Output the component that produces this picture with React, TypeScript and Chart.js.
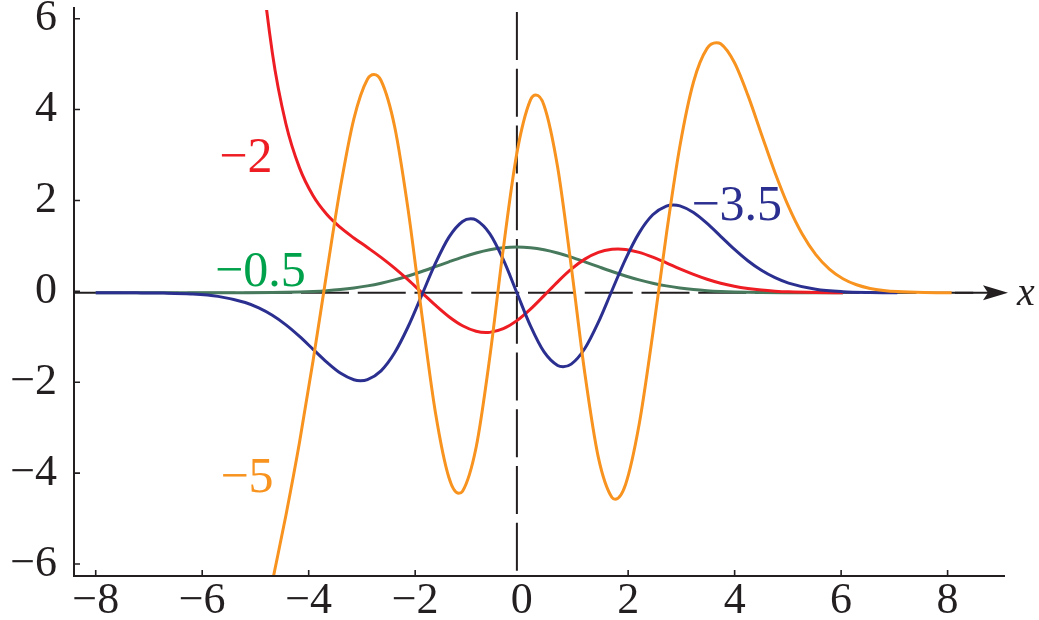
import { useEffect, useRef } from "react";
import { Chart, registerables } from "chart.js";

Chart.register(...registerables);

// ---------- axis ticks ----------
const xTickValues = [-8, -6, -4, -2, 0, 2, 4, 6, 8];
const yTickValues = [-6, -4, -2, 0, 2, 4, 6];

// ---------- series values: [x, y] ----------
// a = -0.5 (green)
const seriesGreen: [number, number][] = [
  [-7.75, 0], [-7.5, 0], [-7, 0], [-6.5, 0], [-6, 0.0001], [-5.5, 0.0005], [-5, 0.0019],
  [-4.5, 0.0063], [-4, 0.0183], [-3.75, 0.0297], [-3.5, 0.0468], [-3.25, 0.0713], [-3, 0.1054],
  [-2.75, 0.151], [-2.5, 0.2096], [-2.25, 0.2821], [-2, 0.3679], [-1.75, 0.465], [-1.5, 0.5698],
  [-1.25, 0.6766], [-1, 0.7788], [-0.75, 0.8688], [-0.5, 0.9394], [-0.25, 0.9845], [0, 1],
  [0.25, 0.9845], [0.5, 0.9394], [0.75, 0.8688], [1, 0.7788], [1.25, 0.6766], [1.5, 0.5698],
  [1.75, 0.465], [2, 0.3679], [2.25, 0.2821], [2.5, 0.2096], [2.75, 0.151], [3, 0.1054],
  [3.25, 0.0713], [3.5, 0.0468], [3.75, 0.0297], [4, 0.0183], [4.5, 0.0063], [5, 0.0019],
  [5.5, 0.0005], [6, 0.0001],
];

// a = -2 (red)
const seriesRed: [number, number][] = [
  [-5, 12.245], [-4.75, 7.822], [-4.5, 5.238], [-4.25, 3.685], [-4, 2.727], [-3.75, 2.118],
  [-3.5, 1.714], [-3.25, 1.427], [-3, 1.198], [-2.75, 0.989], [-2.5, 0.774], [-2.25, 0.539],
  [-2, 0.28], [-1.75, 0.004], [-1.5, -0.271], [-1.25, -0.522], [-1, -0.72], [-0.75, -0.84],
  [-0.57, -0.868], [-0.5, -0.864], [-0.25, -0.784], [0, -0.608], [0.25, -0.357], [0.5, -0.062],
  [0.75, 0.24], [1, 0.516], [1.25, 0.735], [1.5, 0.882], [1.75, 0.951], [1.86, 0.957],
  [2, 0.946], [2.25, 0.883], [2.5, 0.78], [2.75, 0.655], [3, 0.525], [3.25, 0.403],
  [3.5, 0.297], [3.75, 0.21], [4, 0.143], [4.25, 0.094], [4.5, 0.059], [4.75, 0.036],
  [5, 0.021], [5.5, 0.007], [6, 0.002],
];

// a = -3.5 (blue)
const seriesBlue: [number, number][] = [
  [-7.75, -0.0001], [-7.5, -0.0003], [-7, -0.0015], [-6.5, -0.0066], [-6, -0.0244],
  [-5.5, -0.0779], [-5, -0.2123], [-4.75, -0.3299], [-4.5, -0.4914], [-4.25, -0.7003],
  [-4, -0.9526], [-3.75, -1.2333], [-3.5, -1.5142], [-3.25, -1.7529], [-3, -1.8972],
  [-2.88, -1.9176], [-2.75, -1.8942], [-2.5, -1.7031], [-2.25, -1.3089], [-2, -0.7358],
  [-1.75, -0.0509], [-1.5, 0.641], [-1.25, 1.2158], [-1, 1.5576], [-0.85, 1.616],
  [-0.75, 1.5883], [-0.5, 1.2917], [-0.25, 0.723], [0, 0], [0.25, -0.723], [0.5, -1.2917],
  [0.75, -1.5883], [0.85, -1.616], [1, -1.5576], [1.25, -1.2158], [1.5, -0.641],
  [1.75, 0.0509], [2, 0.7358], [2.25, 1.3089], [2.5, 1.7031], [2.75, 1.8942], [2.88, 1.9176],
  [3, 1.8972], [3.25, 1.7529], [3.5, 1.5142], [3.75, 1.2333], [4, 0.9526], [4.25, 0.7003],
  [4.5, 0.4914], [4.75, 0.3299], [5, 0.2123], [5.5, 0.0779], [6, 0.0244], [6.5, 0.0066],
  [7, 0.0015],
];

// a = -5 (orange)
const seriesOrange: [number, number][] = [
  [-4.75, -7.798], [-4.5, -6.31], [-4.25, -4.855], [-4, -3.264], [-3.75, -1.478],
  [-3.5, 0.434], [-3.25, 2.286], [-3, 3.798], [-2.75, 4.662], [-2.63, 4.766], [-2.5, 4.635],
  [-2.25, 3.631], [-2, 1.8], [-1.75, -0.465], [-1.5, -2.606], [-1.25, -4.037], [-1.07, -4.376],
  [-1, -4.331], [-0.75, -3.372], [-0.5, -1.416], [-0.25, 0.965], [0, 3.052], [0.25, 4.211],
  [0.35, 4.316], [0.5, 4.091], [0.75, 2.741], [1, 0.578], [1.25, -1.756], [1.5, -3.599],
  [1.75, -4.47], [1.81, -4.506], [2, -4.184], [2.25, -2.872], [2.5, -0.899], [2.75, 1.271],
  [3, 3.205], [3.25, 4.602], [3.5, 5.336], [3.67, 5.459], [3.75, 5.436], [4, 5.033],
  [4.25, 4.316], [4.5, 3.464], [4.75, 2.623], [5, 1.88], [5.25, 1.282], [5.5, 0.834],
  [5.75, 0.518], [6, 0.308], [6.25, 0.176], [6.5, 0.096], [6.75, 0.051], [7, 0.026],
  [7.5, 0.006], [8, 0.001],
];

// curve labels: text, colour, anchor (data coords of the text's left end / baseline)
const curveLabels = [
  { text: "\u22122", color: "#EE1D23", x: -5.477, y: 2.638 },
  { text: "\u22120.5", color: "#00A14B", x: -5.556, y: 0.148 },
  { text: "\u22123.5", color: "#2B2F8F", x: 3.211, y: 1.59 },
  { text: "\u22125", color: "#F7931E", x: -5.456, y: -4.349 },
];

const COLORS = {
  green: "#47795D",
  red: "#EE1D23",
  blue: "#2B2F8F",
  orange: "#F7931E",
  ink: "#231F20",
};

const SERIF = '"Liberation Serif", "Times New Roman", serif';

const fmt = (v: number) => (v < 0 ? "\u2212" + Math.abs(v) : String(v));
const toPts = (s: [number, number][]) => s.map(([x, y]) => ({ x, y }));

const overlay = {
  id: "overlay",
  beforeDatasetsDraw(chart: any) {
    const { ctx, chartArea } = chart;
    const xs = chart.scales.x;
    const ys = chart.scales.y;
    const x0 = xs.getPixelForValue(0);
    const y0 = ys.getPixelForValue(0);
    ctx.save();
    ctx.strokeStyle = COLORS.ink;
    ctx.lineWidth = 2;
    ctx.setLineDash([48, 8.75]);
    ctx.beginPath();
    ctx.moveTo(chartArea.left, y0);
    ctx.lineTo(975, y0);
    ctx.stroke();
    ctx.beginPath();
    ctx.moveTo(x0, chartArea.top + 5);
    ctx.lineTo(x0, chartArea.bottom);
    ctx.stroke();
    ctx.setLineDash([]);
    ctx.beginPath();
    ctx.moveTo(955, y0);
    ctx.lineTo(990, y0);
    ctx.stroke();
    ctx.restore();
  },
  afterDatasetsDraw(chart: any) {
    const { ctx, chartArea } = chart;
    const xs = chart.scales.x;
    const ys = chart.scales.y;
    const xt = chart.scales.xt;
    const yt = chart.scales.yt;
    const y0 = ys.getPixelForValue(0);
    ctx.save();
    // axes
    ctx.strokeStyle = COLORS.ink;
    ctx.lineWidth = 2;
    ctx.beginPath();
    ctx.moveTo(chartArea.left, chartArea.top);
    ctx.lineTo(chartArea.left, chartArea.bottom);
    ctx.lineTo(chartArea.right, chartArea.bottom);
    ctx.stroke();
    // inward tick marks (the one at x = 0 is hidden under the dashed line)
    ctx.lineWidth = 1.6;
    ctx.beginPath();
    xTickValues.forEach((v) => {
      if (v === 0) return;
      const p = xt.getPixelForValue(v);
      ctx.moveTo(p, chartArea.bottom);
      ctx.lineTo(p, chartArea.bottom - 6);
    });
    yTickValues.forEach((v) => {
      const p = yt.getPixelForValue(v);
      ctx.moveTo(chartArea.left, p);
      ctx.lineTo(chartArea.left + 6, p);
    });
    ctx.stroke();
    // arrow head
    ctx.fillStyle = COLORS.ink;
    ctx.beginPath();
    ctx.moveTo(1008, y0);
    ctx.lineTo(983, y0 - 7.5);
    ctx.lineTo(988, y0);
    ctx.lineTo(983, y0 + 7.5);
    ctx.closePath();
    ctx.fill();
    // axis name
    ctx.font = "italic 40px " + SERIF;
    ctx.textAlign = "left";
    ctx.textBaseline = "alphabetic";
    ctx.fillText("x", 1017, y0 + 12);
    // curve labels
    ctx.font = "50px " + SERIF;
    curveLabels.forEach((l) => {
      ctx.fillStyle = l.color;
      ctx.fillText(l.text, xs.getPixelForValue(l.x), ys.getPixelForValue(l.y));
    });
    ctx.restore();
  },
};

export default function App() {
  const ref = useRef<HTMLCanvasElement>(null);
  useEffect(() => {
    const canvas = ref.current;
    if (!canvas) return;
    const tickFont = { family: SERIF, size: 44, lineHeight: 1 };
    const chart = new Chart(canvas, {
      type: "line",
      data: {
        datasets: [
          { data: toPts(seriesOrange), borderColor: COLORS.orange },
          { data: toPts(seriesBlue), borderColor: COLORS.blue },
          { data: toPts(seriesRed), borderColor: COLORS.red },
          { data: toPts(seriesGreen), borderColor: COLORS.green },
        ].map((d) => ({
          ...d,
          xAxisID: "x",
          yAxisID: "y",
          borderWidth: 3,
          pointRadius: 0,
          fill: false,
          cubicInterpolationMode: "monotone" as const,
          clip: { left: 5, right: 5, top: -3, bottom: 0 },
        })),
      },
      options: {
        responsive: false,
        animation: false,
        devicePixelRatio: 1,
        events: [],
        layout: { padding: { left: 0, right: 34, top: 7, bottom: 0 } },
        plugins: { legend: { display: false }, tooltip: { enabled: false } },
        scales: {
          x: { type: "linear", display: false, min: -8.15, max: 8.982 },
          y: { type: "linear", display: false, min: -6.183, max: 6.24 },
          xt: {
            type: "linear",
            position: "bottom",
            min: -8.408,
            max: 9.078,
            afterBuildTicks: (s: any) => {
              s.ticks = xTickValues.map((value) => ({ value }));
            },
            afterFit: (s: any) => {
              s.height = 44;
              s.paddingLeft = 0;
              s.paddingRight = 0;
            },
            grid: { display: false, drawTicks: false },
            border: { display: false },
            ticks: {
              font: tickFont,
              color: COLORS.ink,
              padding: 3,
              maxRotation: 0,
              autoSkip: false,
              callback: (v: any) => fmt(Number(v)),
            },
          },
          yt: {
            type: "linear",
            position: "left",
            min: -6.265,
            max: 6.257,
            afterBuildTicks: (s: any) => {
              s.ticks = yTickValues.map((value) => ({ value }));
            },
            afterFit: (s: any) => {
              s.width = 74;
              s.paddingTop = 0;
              s.paddingBottom = 0;
            },
            grid: { display: false, drawTicks: false },
            border: { display: false },
            ticks: {
              font: tickFont,
              color: COLORS.ink,
              padding: 17,
              autoSkip: false,
              callback: (v: any) => fmt(Number(v)),
            },
          },
        },
      },
      plugins: [overlay],
    } as any);
    return () => chart.destroy();
  }, []);
  return (
    <div style={{ position: "fixed", left: 0, top: 0, width: 1039, height: 620, background: "#fff" }}>
      <canvas ref={ref} width={1039} height={620} style={{ display: "block", width: 1039, height: 620 }} />
    </div>
  );
}
